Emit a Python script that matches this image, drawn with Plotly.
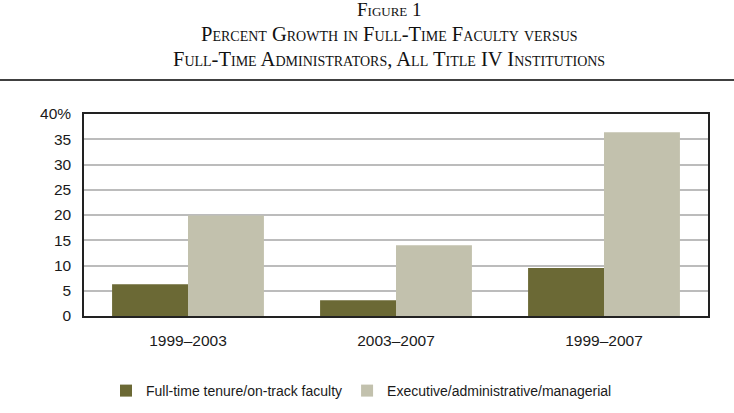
import plotly.graph_objects as go

# ---- data ----
periods = ["1999–2003", "2003–2007", "1999–2007"]
faculty_growth = [6.3, 3.1, 9.5]
admin_growth = [19.9, 14.0, 36.4]

y_ticks = [0, 5, 10, 15, 20, 25, 30, 35, 40]
y_tick_text = ["0", "5", "10", "15", "20", "25", "30", "35", "40%"]

title_lines = [
    "Figure 1",
    "Percent Growth in Full-Time Faculty versus",
    "Full-Time Administrators, All Title IV Institutions",
]

# all positions are pixels from the top-left corner of the page
W, H = 734, 413
left, right, top, bottom = 84, 708, 114, 316
plot_w, plot_h = right - left, bottom - top


def paper_x(px):
    return (px - left) / plot_w


def paper_y(px):
    return (bottom - px) / plot_h


fig = go.Figure()
fig.add_trace(go.Bar(
    x=periods, y=faculty_growth,
    name="Full-time tenure/on-track faculty",
    marker=dict(color="#6b6935", line=dict(width=0)),
))
fig.add_trace(go.Bar(
    x=periods, y=admin_growth,
    name="Executive/administrative/managerial",
    marker=dict(color="#c2c1ad", line=dict(width=0)),
))

serif = "Liberation Serif, Times New Roman, serif"
sans = "Liberation Sans, Arial, sans-serif"

# header lines (small caps)
for text, ypx, size in zip(title_lines, [9, 34, 59], [19, 20.5, 20.5]):
    fig.add_annotation(
        text=text, xref="paper", yref="paper", x=paper_x(389), y=paper_y(ypx),
        xanchor="center", yanchor="middle", showarrow=False,
        font=dict(family=serif, size=size, color="#111111", variant="small-caps"),
    )

# rule under the header, full page width
fig.add_shape(
    type="line", xref="paper", yref="paper",
    x0=-left / plot_w, x1=(W - left) / plot_w, y0=paper_y(80), y1=paper_y(80),
    line=dict(color="#000000", width=1.5),
)

fig.update_layout(
    width=W, height=H,
    # autoexpand off: the legend below the axes must not shrink the plot area
    margin=dict(l=left, r=W - right, t=top, b=H - bottom, pad=0, autoexpand=False),
    paper_bgcolor="white", plot_bgcolor="white",
    barmode="group", bargap=0.27, bargroupgap=0,
    font=dict(family=sans, size=14, color="#1a1a1a"),
    showlegend=True,
    legend=dict(
        orientation="h", x=paper_x(106), xanchor="left", y=paper_y(391), yanchor="middle",
        font=dict(family=sans, size=14, color="#1a1a1a"),
        tracegroupgap=0,
    ),
)

fig.update_xaxes(
    showline=True, linecolor="#222222", linewidth=1.5, mirror=True,
    showgrid=False, ticks="", ticklabelstandoff=10,
    tickfont=dict(family=sans, size=15.5, color="#1a1a1a"),
)
fig.update_yaxes(
    range=[0, 40], tickvals=y_ticks, ticktext=y_tick_text,
    showline=True, linecolor="#222222", linewidth=1.5, mirror=True,
    showgrid=True, gridcolor="#bcbcbc", gridwidth=1.5,
    zeroline=False, ticks="", ticklabelstandoff=8,
    tickfont=dict(family=sans, size=15.5, color="#1a1a1a"),
)

# page has a default 8px body margin; drop it so the figure starts at the corner
fig.write_html(
    "out.html",
    config={"displayModeBar": False},
    post_script="document.body.style.margin = '0';",
)
